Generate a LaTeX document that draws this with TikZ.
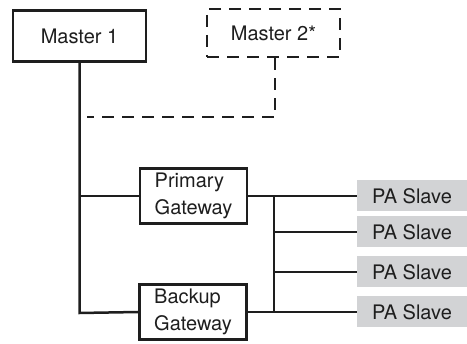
\documentclass[tikz,border=0pt]{standalone}
\usepackage{fontspec}
\setmainfont{TeX Gyre Heros}
\definecolor{slavegray}{RGB}{210,211,213}
\definecolor{ink}{RGB}{30,30,30}
\begin{document}
\begin{tikzpicture}[x=1pt,y=-1pt,
  every node/.style={font=\fontsize{20}{27}\selectfont, text=ink},
  box/.style={draw=ink, line width=2.5pt, minimum width=#1, inner sep=0pt},
  master/.style={box=133pt, minimum height=51pt},
  gateway/.style={box=107pt, minimum height=55pt, align=left},
  slave/.style={fill=slavegray, minimum width=110pt, minimum height=31pt, inner sep=0pt},
  wire/.style={draw=ink, line width=2.5pt},
  dwire/.style={draw=ink, line width=2.5pt, dash pattern=on 12pt off 8pt}]
\useasboundingbox (0,0) rectangle (467,344);
\node[master] (m1) at (79.5,36) {Master 1};
\node[master, dwire, minimum height=48pt] (m2) at (273.5,33) {Master 2*};
\node[gateway] (pg) at (193.5,196) {Primary\\Gateway};
\node[gateway] (bg) at (193,312) {Backup\\Gateway};
\node[slave] (s1) at (412,196) {PA Slave};
\node[slave] (s2) at (412,232) {PA Slave};
\node[slave] (s3) at (412,272) {PA Slave};
\node[slave] (s4) at (412,312) {PA Slave};
\coordinate (bot) at (79.5,313);
\coordinate (dend) at (87,117);
\coordinate (bus) at (274,196);
\coordinate (busb) at (274,312);
% trunk
\draw[wire] (m1.south) -- (bot) -- (bg.west);
\draw[wire] (pg.west -| m1.south) -- (pg.west);
% dashed link from master 2
\draw[dwire] ([xshift=1.5pt]m2.south) |- (dend);
% bus
\draw[wire] (pg.east) -- (bus) -- (busb) -- (bg.east);
\draw[wire] (bus) -- (s1.west);
\draw[wire] (s2.west -| bus) -- (s2.west);
\draw[wire] (s3.west -| bus) -- (s3.west);
\draw[wire] (busb) -- (s4.west);
\end{tikzpicture}
\end{document}
